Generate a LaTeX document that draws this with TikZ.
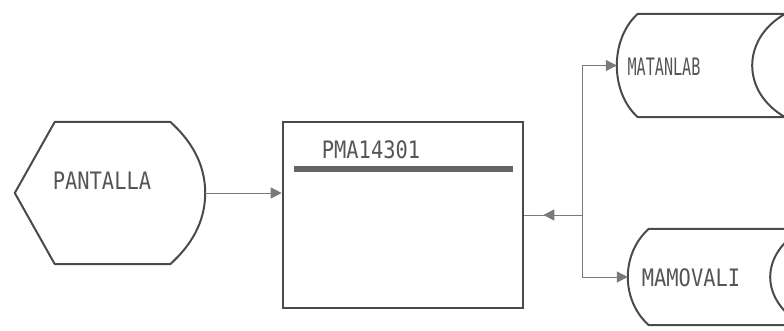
\documentclass[tikz,border=0pt]{standalone}
\usepackage{fontspec}
\newfontfamily\pixfont[FakeStretch=0.85]{DejaVu Sans Mono}
\newfontfamily\pixnarrow[FakeStretch=0.63]{DejaVu Sans Mono}
\usepackage{tikz}
\usetikzlibrary{calc}
\usetikzlibrary{arrows.meta}
\usetikzlibrary{decorations.markings}
\definecolor{inkgray}{HTML}{4A4A4A}
\definecolor{textgray}{HTML}{555555}
\definecolor{wiregray}{HTML}{7A7A7A}
\tikzset{
  shapeline/.style={draw=inkgray, line width=2pt, line join=round},
  wire/.style={draw=wiregray, line width=1pt},
  wiretip/.style={-{Triangle[length=11pt,width=11pt]}},
  midtip/.style={postaction={decorate}, decoration={markings,
      mark=at position 0.67 with {\arrow{Triangle[length=11pt,width=11pt]}}}},
  lbl/.style={font=\pixfont\fontsize{24}{24}\selectfont, text=textgray, inner sep=0pt},
  place/.style={draw=none, shape=rectangle, inner sep=0pt},
}
% outline of a stored data file, drawn round a placed node
\newcommand{\storedfile}[1]{ \draw[shapeline] ($(#1.north west)+(21,0)$) -- (#1.north east)
  .. controls ($(#1.north east)+(-44,25)$) and ($(#1.south east)+(-44,-25)$) .. (#1.south east)
  -- ($(#1.south west)+(21,0)$)
  .. controls ($(#1.south west)+(-7,-25)$) and ($(#1.north west)+(-7,25)$) .. cycle;}

\begin{document}
\begin{tikzpicture}[x=1pt,y=-1pt]
\clip (0,0) rectangle (784,330);
\fill[white] (0,0) rectangle (784,330);
% display
\node[place, minimum width=190pt, minimum height=142pt] (pant) at (110,193) {};
\draw[shapeline] (pant.west) -- ($(pant.north west)+(40,0)$) -- ($(pant.north east)+(-35,0)$)
  .. controls ($(pant.north east)+(-15,18)$) and ($(pant.east)+(0,-30)$) .. (pant.east)
  .. controls ($(pant.east)+(0,30)$) and ($(pant.south east)+(-15,-18)$) .. ($(pant.south east)+(-35,0)$)
  -- ($(pant.south west)+(40,0)$) -- cycle;
\node[lbl] (pantlbl) at (102,181) {PANTALLA};
% program box
\node[draw=inkgray, line width=2.6pt, minimum width=240pt, minimum height=186pt, inner sep=0pt] (prog) at (403,215) {};
\node[lbl] (progtitle) at (371,150) {PMA14301};
\fill[inkgray!85] ($(prog.north west)+(12,45)$) rectangle ($(prog.north east)+(-11,51)$);
% files
\node[place, minimum width=168pt, minimum height=103pt] (matan) at (701,65.5) {};
\storedfile{matan}
\node[lbl, font=\pixnarrow\fontsize{24}{24}\selectfont] (matanlbl) at (664,67) {MATANLAB};
\node[place, minimum width=175pt, minimum height=96pt] (mamo) at (715.5,277) {};
\storedfile{mamo}
\node[lbl] (mamolbl) at (691,278) {MAMOVALI};
% connectors
\coordinate (junc) at (582,215);
\draw[wire, wiretip] (pant.east) -- (pant.east -| prog.west);
\draw[wire, midtip] (junc) -- (prog.east);
\draw[wire, wiretip] (junc) |- (matan.west);
\draw[wire, wiretip] (junc) |- (mamo.west);
\end{tikzpicture}
\end{document}
